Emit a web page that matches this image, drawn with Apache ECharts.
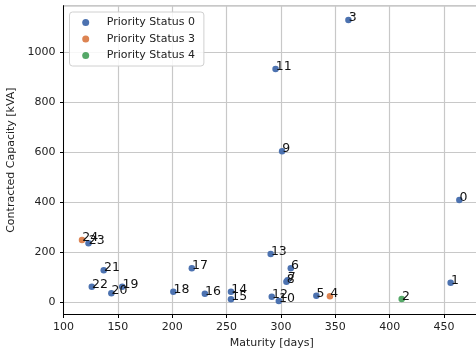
<!DOCTYPE html>
<html>
<head>
<meta charset="utf-8">
<script src="https://cdn.jsdelivr.net/npm/echarts@6/dist/echarts.min.js"></script>
<style>
  html, body { margin: 0; padding: 0; background: #fff; }
  #chart { width: 476px; height: 356px; }
</style>
</head>
<body>
<div id="chart"></div>
<script>
// Contract index, maturity (days), contracted capacity (kVA) and priority status
const contractIds = [0, 1, 2, 3, 4, 5, 6, 7, 8, 9, 10, 11, 12, 13, 14, 15, 16, 17, 18, 19, 20, 21, 22, 23, 24];
const maturityDays = [464, 456, 411, 362, 345, 332.5, 309, 306, 305, 301, 298, 295, 291.5, 290.5, 254, 254, 230, 218, 201, 154, 144, 137, 126, 123, 117];
const capacityKVA = [409, 78, 13, 1128, 24, 26, 136, 88, 82, 604, 5, 932, 22, 193, 42, 12, 34, 136, 42, 62, 36, 128, 62, 236, 249];
const priorityStatus = [0, 0, 4, 0, 3, 0, 0, 0, 0, 0, 0, 0, 0, 0, 0, 0, 0, 0, 0, 0, 0, 0, 0, 0, 3];

const statusLevels = [0, 3, 4];
const statusColors = ['#4c72b0', '#dd8452', '#55a868'];

const FONT = 'DejaVu Sans';

const series = statusLevels.map((status, k) => {
  const data = [];
  contractIds.forEach((id, i) => {
    if (priorityStatus[i] === status) {
      data.push({ value: [maturityDays[i], capacityKVA[i]], name: String(id) });
    }
  });
  return {
    name: 'Priority Status ' + status,
    type: 'scatter',
    symbol: 'circle',
    symbolSize: 6.5,
    itemStyle: { color: statusColors[k], opacity: 1 },
    emphasis: { disabled: true },
    label: {
      show: true,
      formatter: p => p.name,
      position: [3.5, 7.5],
      align: 'left',
      verticalAlign: 'bottom',
      fontFamily: FONT,
      fontSize: 12.5,
      color: '#111'
    },
    labelLayout: { hideOverlap: false },
    data: data
  };
});

const chart = echarts.init(document.getElementById('chart'), null, { renderer: 'canvas' });
chart.setOption({
  animation: false,
  backgroundColor: '#fff',
  grid: {
    left: 63.5, top: 5.7, right: -4, bottom: 41.5,
    outerBoundsMode: 'none',
    containLabel: false,
    show: true, borderColor: '#333', borderWidth: 1, backgroundColor: 'transparent'
  },
  legend: {
    orient: 'vertical',
    left: 69.5,
    top: 12,
    padding: [4.5, 9, 4.5, 12.7],
    itemGap: 4.5,
    itemWidth: 7,
    itemHeight: 7,
    icon: 'circle',
    backgroundColor: 'rgba(255,255,255,0.85)',
    borderColor: '#d0d0d0',
    borderWidth: 1,
    borderRadius: 3,
    textStyle: { fontFamily: FONT, fontSize: 11, color: '#222', lineHeight: 12, padding: [0, 0, 0, 12.5] },
    data: statusLevels.map(s => 'Priority Status ' + s)
  },
  xAxis: {
    type: 'value',
    min: 100,
    max: 483,
    interval: 50,
    name: 'Maturity [days]',
    nameLocation: 'middle',
    nameGap: 22,
    nameTextStyle: { fontFamily: FONT, fontSize: 11, color: '#222' },
    axisLine: { show: true, onZero: false, lineStyle: { color: '#000', width: 1 } },
    axisTick: { show: true, length: 3.5, lineStyle: { color: '#000' } },
    axisLabel: { fontFamily: FONT, fontSize: 11, color: '#222', margin: 7, showMaxLabel: false },
    splitLine: { show: true, lineStyle: { color: '#c8c8c8', width: 1.2 } }
  },
  yAxis: {
    type: 'value',
    min: -48.7,
    max: 1185,
    splitNumber: 6,
    name: 'Contracted Capacity [kVA]',
    nameLocation: 'middle',
    nameGap: 40,
    nameRotate: 90,
    nameTextStyle: { fontFamily: FONT, fontSize: 11, color: '#222' },
    axisLine: { show: true, onZero: false, lineStyle: { color: '#000', width: 1 } },
    axisTick: { show: true, length: 3.5, lineStyle: { color: '#000' } },
    axisLabel: {
      fontFamily: FONT, fontSize: 11, color: '#222', margin: 8,
      showMinLabel: false, showMaxLabel: false,
      formatter: v => String(v)
    },
    splitLine: { show: true, lineStyle: { color: '#c8c8c8', width: 1.2 } }
  },
  series: series
});
</script>
</body>
</html>
